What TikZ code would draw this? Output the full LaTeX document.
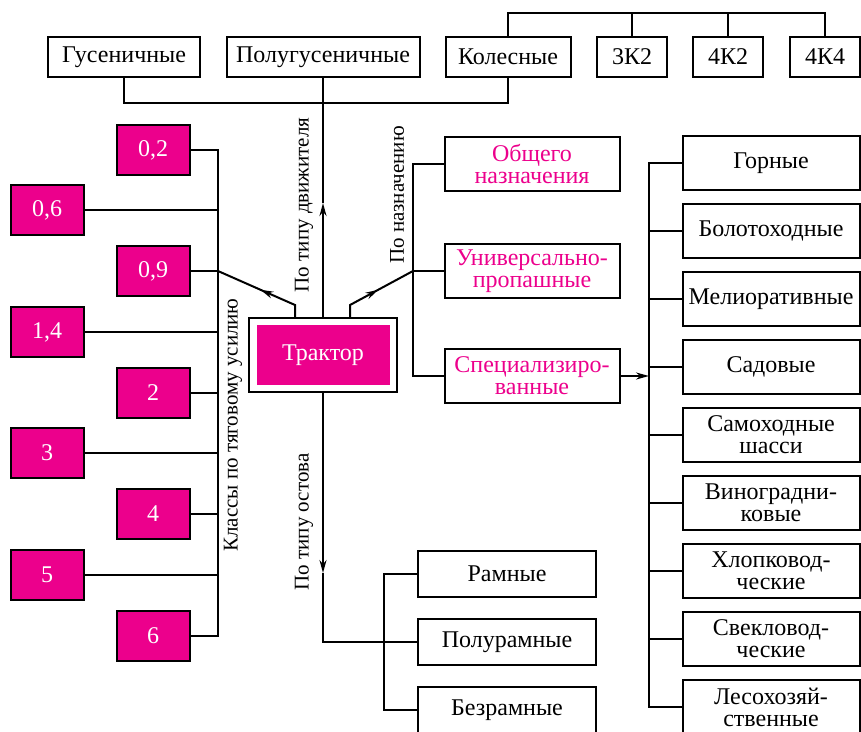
\documentclass[tikz,border=0pt]{standalone}
\usepackage{fontspec}
\setmainfont{Liberation Serif}
\usetikzlibrary{arrows.meta,calc}
\definecolor{trmag}{RGB}{236,0,140}

\begin{document}
\begin{tikzpicture}[x=1pt, y=-1pt]
  \useasboundingbox (0,0) rectangle (861,731);
  \begin{scope}[line width=2pt, >={Stealth[length=13pt,width=7pt]},
      txt/.style={font=\fontsize{24}{22}\selectfont, align=center, inner sep=0pt},
      topbox/.style={txt, draw, minimum height=40pt},
      clsbox/.style={txt, draw, fill=trmag, text=white, minimum width=73pt, minimum height=50pt},
      purpbox/.style={txt, draw, text=trmag, minimum width=175pt, minimum height=54pt},
      specbox/.style={txt, draw, minimum width=177pt, minimum height=54pt},
      framebox/.style={txt, draw, minimum width=178pt, minimum height=46pt},
      sidelbl/.style={font=\fontsize{21}{23}\selectfont, rotate=90, inner sep=0pt}]

    % Tractor
    \node[draw, minimum width=148pt, minimum height=74pt] (trk) at (323,355) {};
    \node[txt, fill=trmag, text=white, minimum width=133pt, minimum height=60pt] (trkin) at (323,355) {Трактор};

    % By propulsion
    \node[topbox, minimum width=152pt] (gus) at (124,57) {Гусеничные};
    \node[topbox, minimum width=193pt] (polgus) at (323,57) {Полугусеничные};
    \node[topbox, minimum width=125pt] (kol) at (508,57) {Колесные};
    \node[topbox, minimum width=70pt] (k32) at (632,57) {3К2};
    \node[topbox, minimum width=70pt] (k42) at (728,57) {4К2};
    \node[topbox, minimum width=70pt] (k44) at (825,57) {4К4};

    \coordinate (bar) at (323,103);
    \coordinate (wtop) at (825,13);
    \coordinate (mvup) at (323,203);

    \draw (gus.south) |- (bar) -| (kol.south);
    \draw (polgus.south) -- (bar);
    \draw (kol.north) |- (wtop) -- (k44.north);
    \draw (k32.north) -- (k32.north |- wtop);
    \draw (k42.north) -- (k42.north |- wtop);

    \draw[->] (trk.north) -- (mvup);
    \draw (mvup) -- (bar);
    \node[sidelbl] (lmove) at (304,205) {По типу движителя};

    % Traction classes
    \node[clsbox] (c02) at (153,150) {0,2};
    \node[clsbox] (c06) at (47,210) {0,6};
    \node[clsbox] (c09) at (153,271) {0,9};
    \node[clsbox] (c14) at (47,332) {1,4};
    \node[clsbox] (c2) at (153,393) {2};
    \node[clsbox] (c3) at (47,453) {3};
    \node[clsbox] (c4) at (153,514) {4};
    \node[clsbox] (c5) at (47,575) {5};
    \node[clsbox] (c6) at (153,636) {6};

    \coordinate (cbus) at (218,271);
    \coordinate (lk) at (295,305);

    \draw (c02.east) -- (c02.east -| cbus) -- (c6.east -| cbus) -- (c6.east);
    \draw (c06.east) -- (c06.east -| cbus);
    \draw (c09.east) -- (cbus);
    \draw (c14.east) -- (c14.east -| cbus);
    \draw (c2.east) -- (c2.east -| cbus);
    \draw (c3.east) -- (c3.east -| cbus);
    \draw (c4.east) -- (c4.east -| cbus);
    \draw (c5.east) -- (c5.east -| cbus);

    \draw[->] (lk |- trk.north) -- (lk) -- ($(lk)!0.45!(cbus)$);
    \draw ($(lk)!0.4!(cbus)$) -- (cbus);
    \node[sidelbl] (lcls) at (233,425) {Классы по тяговому усилию};

    % By purpose
    \node[purpbox] (gen) at (532,164) {Общего\\назначения};
    \node[purpbox] (univ) at (532,271) {Универсально-\\пропашные};
    \node[purpbox] (spec) at (532,376) {Специализиро-\\ванные};

    \coordinate (nbus) at (413,271);
    \coordinate (rk) at (350,305);

    \draw (gen.west) -- (gen.west -| nbus) -- (spec.west -| nbus) -- (spec.west);
    \draw (univ.west) -- (nbus);
    \draw[->] (rk |- trk.north) -- (rk) -- ($(rk)!0.45!(nbus)$);
    \draw ($(rk)!0.4!(nbus)$) -- (nbus);
    \node[sidelbl] (lpurp) at (397,195) {По назначению};

    % Specialised
    \node[specbox] (gor) at (771,163) {Горные};
    \node[specbox] (bol) at (771,231) {Болотоходные};
    \node[specbox] (mel) at (771,299) {Мелиоративные};
    \node[specbox] (sad) at (771,367) {Садовые};
    \node[specbox] (shas) at (771,435) {Самоходные\\шасси};
    \node[specbox] (vin) at (771,503) {Виноградни-\\ковые};
    \node[specbox] (hlop) at (771,571) {Хлопковод-\\ческие};
    \node[specbox] (svek) at (771,639) {Свекловод-\\ческие};
    \node[specbox] (les) at (771,707) {Лесохозяй-\\ственные};

    \coordinate (sbus) at (649,376);

    \draw[->] (spec.east) -- (sbus);
    \draw (gor.west) -- (gor.west -| sbus) -- (les.west -| sbus) -- (les.west);
    \draw (bol.west) -- (bol.west -| sbus);
    \draw (mel.west) -- (mel.west -| sbus);
    \draw (sad.west) -- (sad.west -| sbus);
    \draw (shas.west) -- (shas.west -| sbus);
    \draw (vin.west) -- (vin.west -| sbus);
    \draw (hlop.west) -- (hlop.west -| sbus);
    \draw (svek.west) -- (svek.west -| sbus);

    % By frame
    \node[framebox] (ramn) at (507,574) {Рамные};
    \node[framebox] (polr) at (507,642) {Полурамные};
    \node[framebox] (bezr) at (507,710) {Безрамные};

    \coordinate (ost) at (323,573);
    \coordinate (fbus) at (384,642);

    \draw[->] (trk.south) -- (ost);
    \draw (ost) |- (polr.west);
    \draw (ramn.west) -- (ramn.west -| fbus) -- (bezr.west -| fbus) -- (bezr.west);
    \node[sidelbl] (lost) at (304,522) {По типу остова};
  \end{scope}
\end{tikzpicture}
\end{document}
